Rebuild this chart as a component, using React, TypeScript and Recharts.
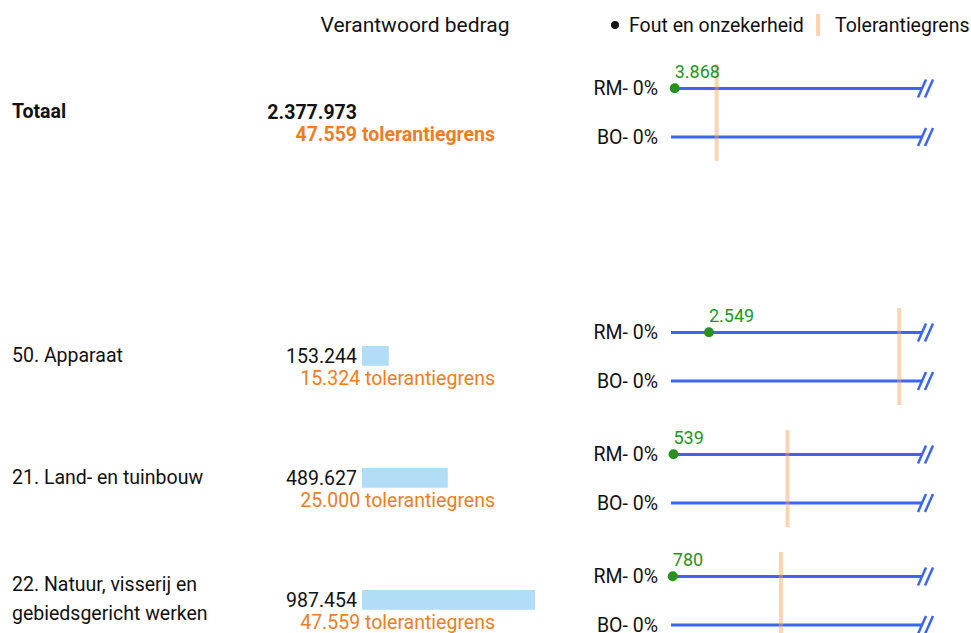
import React from "react";
import { Bar, BarChart, ComposedChart, Line, ReferenceLine, XAxis, YAxis } from "recharts";

// bedragen in duizenden euro's
const categories = ["Totaal", "50. Apparaat", "21. Land- en tuinbouw", "22. Natuur, visserij en gebiedsgericht werken"];
const verantwoord = [2377973, 153244, 489627, 987454];
const tolerantie = [47559, 15324, 25000, 47559];
const foutRM = [3868, 2549, 539, 780];
const pctRM = [0, 0, 0, 0];
const pctBO = [0, 0, 0, 0];
const soorten = ["RM", "BO"];

const slots = [0, 2, 3, 4];
const FONT = "Roboto, sans-serif";
const FS = 19.5;
const BLUE = "#3a66f0";
const GREEN = "#23951f";
const ORANGE = "#ef7d22";
const BAND = "#f5a15c";
const BAR = "#b1ddf7";
const PAD = 14;

const fmt = (v: number) => v.toLocaleString("en-US").replace(/,/g, ".");
const maxBar = Math.max(...verantwoord.slice(1));

function BreakLine(props: any) {
  const { x, y, width, height } = props;
  const cy = y + height / 2;
  const end = x + width;
  return (
    <g>
      <rect x={x} y={y} width={width} height={height} fill={BLUE} />
      <line x1={end - 4} y1={cy + 9} x2={end + 4} y2={cy - 9} stroke={BLUE} strokeWidth={2.5} />
      <line x1={end + 3} y1={cy + 9} x2={end + 11} y2={cy - 9} stroke={BLUE} strokeWidth={2.5} />
    </g>
  );
}

function Row({ i }: { i: number }) {
  const r = 88 + slots[i] * 122;
  const bold = i === 0;
  const max = verantwoord[i] * 0.11;
  const data = soorten.map((s, k) => ({
    type: s,
    pct: k === 0 ? pctRM[i] : pctBO[i],
    full: max,
    err: k === 0 ? foutRM[i] : null,
  }));
  const txt: React.CSSProperties = {
    position: "absolute",
    fontSize: FS,
    lineHeight: "29px",
    fontWeight: bold ? 700 : 400,
    color: "#111",
    transform: "translateY(-50%)",
    whiteSpace: "nowrap",
  };
  return (
    <>
      <div style={{ ...txt, left: 12, top: r + 23, width: 215, whiteSpace: "normal" }}>{categories[i]}</div>
      <div style={{ ...txt, right: 971 - 357, top: r + 24 }}>{fmt(verantwoord[i])}</div>
      <div style={{ ...txt, right: 971 - 495, top: r + 46, color: ORANGE }}>
        {fmt(tolerantie[i])} tolerantiegrens
      </div>
      {i > 0 && (
        <div style={{ position: "absolute", left: 362, top: r + 13 }}>
          <BarChart width={173} height={22} data={[{ v: verantwoord[i] }]} layout="vertical" margin={{ top: 0, right: 0, bottom: 0, left: 0 }}>
            <XAxis type="number" hide domain={[0, maxBar]} />
            <YAxis type="category" hide />
            <Bar dataKey="v" fill={BAR} barSize={22} isAnimationActive={false} />
          </BarChart>
        </div>
      )}
      <div style={{ position: "absolute", left: 560, top: r - 24 - PAD }}>
        <ComposedChart width={380} height={97 + PAD} data={data} layout="vertical" margin={{ top: PAD, right: 18, bottom: 0, left: 0 }}>
          <XAxis type="number" hide domain={[0, max]} />
          <YAxis
            type="category"
            dataKey="type"
            width={111}
            axisLine={false}
            tickLine={false}
            tickSize={0}
            tickMargin={13}
            tick={{ fontSize: FS, fill: "#111", fontFamily: FONT }}
            tickFormatter={(v: string, k: number) => `${v}- ${data[k] ? data[k].pct : 0}%`}
          />
          <Bar dataKey="full" barSize={3} shape={<BreakLine />} isAnimationActive={false} />
          <ReferenceLine x={tolerantie[i]} stroke={BAND} strokeOpacity={0.45} strokeWidth={4} />
          <Line
            dataKey="err"
            stroke="none"
            dot={{ r: 5, fill: GREEN, stroke: "none" }}
            isAnimationActive={false}
            label={(p: any) =>
              p.value == null ? null : (
                <text key={p.index} x={p.x} y={p.y - 10} fill={GREEN} fontSize={18} fontFamily={FONT}>
                  {fmt(p.value)}
                </text>
              )
            }
          />
        </ComposedChart>
      </div>
    </>
  );
}

export default function App() {
  return (
    <div style={{ position: "fixed", left: 0, top: 0, width: 971, height: 633, overflow: "hidden", background: "#fff", fontFamily: FONT }}>
      <div style={{ position: "absolute", left: 415, top: 25, transform: "translate(-50%,-50%)", fontSize: 21, color: "#111", whiteSpace: "nowrap" }}>
        Verantwoord bedrag
      </div>
      <div style={{ position: "absolute", left: 611, top: 21, width: 8, height: 8, borderRadius: 4, background: "#111" }} />
      <div style={{ position: "absolute", left: 629, top: 25, transform: "translateY(-50%)", fontSize: FS, color: "#111", whiteSpace: "nowrap" }}>
        Fout en onzekerheid
      </div>
      <div style={{ position: "absolute", left: 816, top: 14, width: 4, height: 22, background: BAND, opacity: 0.45 }} />
      <div style={{ position: "absolute", left: 835, top: 25, transform: "translateY(-50%)", fontSize: FS, color: "#111", whiteSpace: "nowrap" }}>
        Tolerantiegrens
      </div>
      {categories.map((_, i) => (
        <Row key={i} i={i} />
      ))}
    </div>
  );
}
